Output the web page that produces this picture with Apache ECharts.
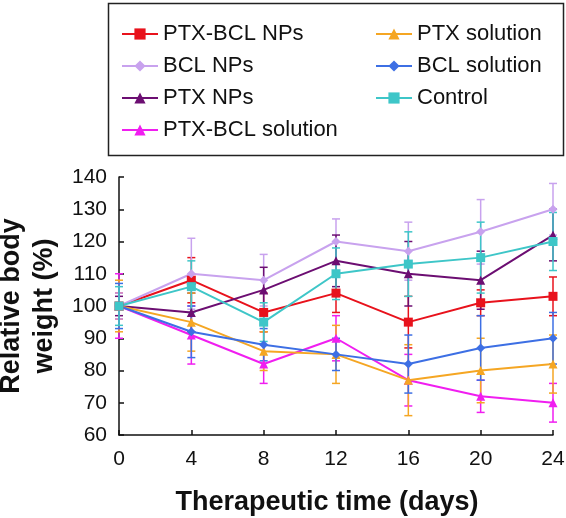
<!DOCTYPE html>
<html lang="en" style="height: 100%">
<head>
  <meta charset="UTF-8">
</head>
<body style="height: 100%; margin: 0; background: #fff">
  <div id="container" style="width: 566px; height: 518px"></div>
  <script type="text/javascript" src="https://fastly.jsdelivr.net/npm/echarts@6/dist/echarts.min.js"></script>
  <script type="text/javascript">
    // days of treatment
    var days = [0, 4, 8, 12, 16, 20, 24];
    var yTicks = [60, 70, 80, 90, 100, 110, 120, 130, 140];

    // relative body weight (%) per group
    var ptxBclNps = [100, 108, 98, 104, 95, 101, 103];
    var bclNps = [100, 110, 108, 120, 117, 123, 130];
    var ptxNps = [100, 98, 105, 114, 110, 108, 122];
    var ptxBclSol = [100, 91, 82, 90, 77, 72, 70];
    var ptxSol = [100, 95, 86, 85, 77, 80, 82];
    var bclSol = [100, 92, 88, 85, 82, 87, 90];
    var control = [100, 106, 95, 110, 113, 115, 120];

    // error (sd) per point
    var ptxBclNpsErr = [4, 7, 6, 6, 8, 4, 6];
    var bclNpsErr = [4, 11, 8, 7, 9, 10, 8];
    var ptxNpsErr = [3, 6, 7, 8, 10, 9, 8];
    var ptxBclSolErr = [10, 9, 6, 7, 8, 5, 6];
    var ptxSolErr = [8, 9, 6, 9, 11, 10, 9];
    var bclSolErr = [7, 8, 5, 5, 9, 10, 8];
    var controlErr = [6, 8, 6, 8, 10, 11, 9];

    var groups = [
      { name: 'PTX-BCL NPs', values: ptxBclNps, err: ptxBclNpsErr, color: '#e8121c', symbol: 'rect' },
      { name: 'BCL NPs', values: bclNps, err: bclNpsErr, color: '#c8a2ee', symbol: 'diamond' },
      { name: 'PTX NPs', values: ptxNps, err: ptxNpsErr, color: '#6c0e72', symbol: 'triangle' },
      { name: 'PTX-BCL solution', values: ptxBclSol, err: ptxBclSolErr, color: '#f01ef0', symbol: 'triangle' },
      { name: 'PTX solution', values: ptxSol, err: ptxSolErr, color: '#f5a623', symbol: 'triangle' },
      { name: 'BCL solution', values: bclSol, err: bclSolErr, color: '#3d6fe4', symbol: 'diamond' },
      { name: 'Control', values: control, err: controlErr, color: '#3ec6c8', symbol: 'rect' }
    ];

    var dom = document.getElementById('container');
    var myChart = echarts.init(dom, null, { renderer: 'canvas' });

    function errorBar(color) {
      return function (params, api) {
        var x = api.value(0);
        var lo = api.coord([x, api.value(1)]);
        var hi = api.coord([x, api.value(2)]);
        var w = 4;
        var style = { stroke: color, lineWidth: 1.5 };
        return {
          type: 'group',
          children: [
            { type: 'line', shape: { x1: lo[0], y1: lo[1], x2: hi[0], y2: hi[1] }, style: style },
            { type: 'line', shape: { x1: lo[0] - w, y1: lo[1], x2: lo[0] + w, y2: lo[1] }, style: style },
            { type: 'line', shape: { x1: hi[0] - w, y1: hi[1], x2: hi[0] + w, y2: hi[1] }, style: style }
          ]
        };
      };
    }

    var series = [];
    groups.forEach(function (g) {
      series.push({
        type: 'custom',
        name: g.name + ' err',
        renderItem: errorBar(g.color),
        data: days.map(function (d, i) {
          return [d, g.values[i] - g.err[i], g.values[i] + g.err[i]];
        }),
        z: 1,
        silent: true
      });
    });
    groups.forEach(function (g) {
      series.push({
        type: 'line',
        name: g.name,
        data: days.map(function (d, i) { return [d, g.values[i]]; }),
        symbol: g.symbol,
        symbolSize: 9,
        showAllSymbol: true,
        lineStyle: { color: g.color, width: 2 },
        itemStyle: { color: g.color },
        z: 2
      });
    });

    var legendText = { fontSize: 22, color: '#111', fontFamily: 'Liberation Sans, Arial, sans-serif' };

    var option = {
      animation: false,
      backgroundColor: '#fff',
      textStyle: { fontFamily: 'Liberation Sans, Arial, sans-serif' },
      graphic: [{
        type: 'rect',
        left: 106,
        top: 1,
        shape: { width: 455, height: 152 },
        style: { fill: 'none', stroke: '#222', lineWidth: 1.5 }
      }],
      legend: [{
        orient: 'vertical',
        left: 116,
        top: 18,
        itemWidth: 36,
        itemHeight: 14,
        itemGap: 10,
        textStyle: legendText,
        data: ['PTX-BCL NPs', 'BCL NPs', 'PTX NPs', 'PTX-BCL solution']
      }, {
        orient: 'vertical',
        left: 370,
        top: 18,
        itemWidth: 36,
        itemHeight: 14,
        itemGap: 10,
        textStyle: legendText,
        data: ['PTX solution', 'BCL solution', 'Control']
      }],
      grid: { left: 119, right: 13, top: 177, bottom: 83, containLabel: false, outerBoundsMode: 'none' },
      xAxis: {
        type: 'value',
        min: days[0],
        max: days[days.length - 1],
        interval: 4,
        name: 'Therapeutic time (days)',
        nameLocation: 'middle',
        nameGap: 54,
        nameTextStyle: { fontSize: 27, fontWeight: 'bold', color: '#111', padding: [0, 18, 0, 0] },
        axisLine: { lineStyle: { color: '#111', width: 1.5 } },
        axisTick: { inside: true, length: 5, lineStyle: { color: '#111', width: 1.5 } },
        axisLabel: { fontSize: 21, color: '#111', margin: 14 },
        splitLine: { show: false }
      },
      yAxis: {
        type: 'value',
        min: yTicks[0],
        max: yTicks[yTicks.length - 1],
        interval: 10,
        name: 'Relative body\nweight (%)',
        nameLocation: 'middle',
        nameGap: 56,
        nameTextStyle: { fontSize: 27, fontWeight: 'bold', color: '#111', lineHeight: 33 },
        axisLine: { show: true, lineStyle: { color: '#111', width: 1.5 } },
        axisTick: { show: true, inside: true, length: 5, lineStyle: { color: '#111', width: 1.5 } },
        axisLabel: { fontSize: 21, color: '#111', margin: 12 },
        splitLine: { show: false }
      },
      series: series
    };

    myChart.setOption(option);
    window.addEventListener('resize', myChart.resize);
  </script>
</body>
</html>
